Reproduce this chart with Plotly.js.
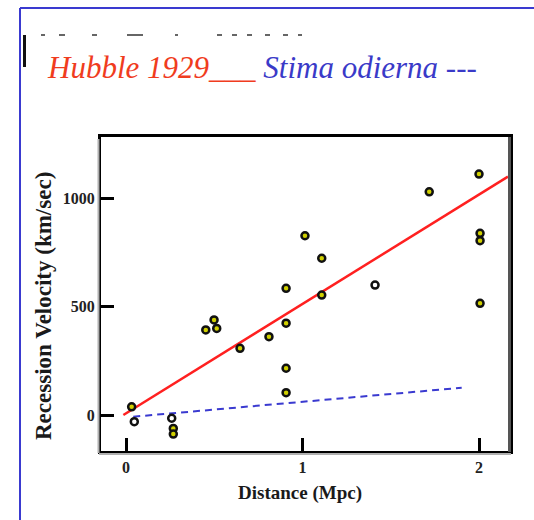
<!DOCTYPE html>
<html>
<head>
<meta charset="utf-8">
<script src="https://cdn.plot.ly/plotly-3.0.1.min.js"></script>
<style>
html,body{margin:0;padding:0;background:#fff;}
#chart{width:534px;height:520px;}
</style>
</head>
<body>
<div id="chart"></div>
<script>
// Hubble 1929 galaxy data
const distanceMpc = [0.032, 0.047, 0.259, 0.268, 0.268, 0.452, 0.499, 0.514, 0.646, 0.81,
                     0.907, 0.907, 0.907, 0.907, 1.014, 1.109, 1.109, 1.411, 1.718, 2.0,
                     2.006, 2.006, 2.006];
const velocityKms = [38, -31, -15, -62, -88, 393, 439, 400, 308, 362,
                     585, 424, 216, 103, 828, 724, 554, 600, 1031, 1113,
                     839, 805, 516];
const openPoint =   [0, 1, 1, 0, 0, 0, 0, 0, 0, 0,
                     0, 0, 0, 0, 0, 0, 0, 1, 0, 0,
                     0, 0, 0];
// Hubble 1929 fit (red) and modern estimate (blue dashed)
const hubbleFitX = [-0.015, 2.164];
const hubbleFitY = [0, 1101];
const modernFitX = [0.041, 1.902];
const modernFitY = [-8, 126];
// Tick labels
const xTicks = [0, 1, 2];
const xTickText = ['0', '1', '2'];
const yTicks = [0, 500, 1000];
const yTickText = ['0', '500', '1000'];

const W = 534, H = 520;
const L = 101, R = 510, T = 137, B = 451;
const px = x => (x - L) / (R - L);
const py = y => (B - y) / (B - T);

const serif = 'Liberation Serif';

const traces = [
  {
    x: hubbleFitX, y: hubbleFitY, mode: 'lines', type: 'scatter',
    line: {color: '#ff2020', width: 2.5}, hoverinfo: 'skip'
  },
  {
    x: modernFitX, y: modernFitY, mode: 'lines', type: 'scatter',
    line: {color: '#3a3ad0', width: 2, dash: '7px,5px'}, hoverinfo: 'skip'
  },
  {
    x: distanceMpc, y: velocityKms, mode: 'markers', type: 'scatter',
    marker: {
      symbol: 'circle', size: 7,
      color: openPoint.map(o => o ? '#ffffff' : '#d0d000'),
      line: {color: '#111', width: 2.5}
    }
  }
];

const dashes = [[41,45],[59,65],[92,97],[127,143],[175,178],[217,222],[232,237],[247,252],[265,270],[283,288],[298,302]];

const shapes = [
  // blue page border
  {type:'line', xref:'paper', yref:'paper', x0:px(20), x1:px(534), y0:py(8), y1:py(8), line:{color:'#3a3ad0', width:2}},
  {type:'line', xref:'paper', yref:'paper', x0:px(20), x1:px(20), y0:py(8), y1:py(520), line:{color:'#3a3ad0', width:2}},
  // black bar at left of heading
  {type:'line', xref:'paper', yref:'paper', x0:px(24.5), x1:px(24.5), y0:py(35), y1:py(67), line:{color:'#111', width:3}},
  // gray shadows of the frame
  {type:'line', xref:'paper', yref:'paper', x0:px(98.5), x1:px(98.5), y0:py(139), y1:py(453), line:{color:'#b0b0b0', width:2}},
  {type:'line', xref:'paper', yref:'paper', x0:px(99), x1:px(511), y0:py(454), y1:py(454), line:{color:'#b0b0b0', width:2}},
  // right frame edge (dark gray)
  {type:'line', xref:'paper', yref:'paper', x0:px(509.5), x1:px(509.5), y0:py(137), y1:py(452), line:{color:'#555', width:3}}
].concat(dashes.map(d => ({
  type:'line', xref:'paper', yref:'paper', x0:px(d[0]), x1:px(d[1]), y0:py(35), y1:py(35),
  line:{color:'#333', width:1.5}
})));

const layout = {
  width: W, height: H, autosize: false,
  margin: {l: L, r: W - R, t: T, b: H - B, pad: 0},
  paper_bgcolor: '#fff', plot_bgcolor: '#fff',
  showlegend: false,
  xaxis: {
    range: [(L - 126) / 176.5, (R - 126) / 176.5],
    tickvals: xTicks, ticktext: xTickText,
    ticks: 'inside', ticklen: 13, tickwidth: 3, tickcolor: '#000',
    showline: true, linecolor: '#000', linewidth: 3, mirror: true,
    showgrid: false, zeroline: false,
    tickfont: {family: serif, size: 16, weight: 'bold', color: '#222'}
  },
  yaxis: {
    range: [-(B - 415) / 0.2165, (415 - T) / 0.2165],
    tickvals: yTicks, ticktext: yTickText,
    ticks: 'inside', ticklen: 13, tickwidth: 3, tickcolor: '#000',
    showline: true, linecolor: '#000', linewidth: 3, mirror: true,
    showgrid: false, zeroline: false,
    tickfont: {family: serif, size: 16, weight: 'bold', color: '#222'}
  },
  shapes: shapes,
  annotations: [
    {
      xref: 'paper', yref: 'paper', x: px(45), y: py(68), xanchor: 'left', yanchor: 'middle',
      showarrow: false,
      text: '<i><span style="color:#f03c1e">Hubble 1929___</span> <span style="color:#3a3ac8">Stima odierna ---</span></i>',
      font: {family: serif, size: 31}
    },
    {
      xref: 'paper', yref: 'paper', x: px(300), y: py(493), xanchor: 'center', yanchor: 'middle',
      showarrow: false, text: 'Distance (Mpc)',
      font: {family: serif, size: 19, weight: 'bold', color: '#1a1a1a'}
    },
    {
      xref: 'paper', yref: 'paper', x: px(43), y: py(306), xanchor: 'center', yanchor: 'middle',
      showarrow: false, textangle: -90, text: 'Recession Velocity (km/sec)',
      font: {family: serif, size: 23, weight: 'bold', color: '#1a1a1a'}
    }
  ]
};

Plotly.newPlot('chart', traces, layout, {displayModeBar: false, staticPlot: true});
</script>
</body>
</html>
